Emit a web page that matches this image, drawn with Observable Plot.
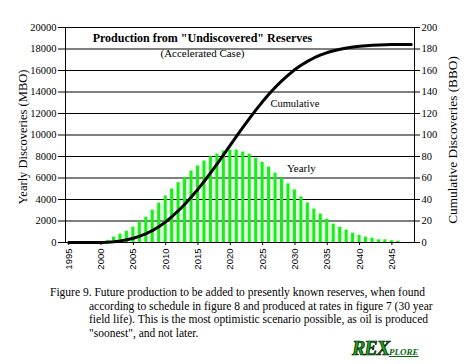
<!DOCTYPE html>
<html><head><meta charset="utf-8">
<script src="https://cdn.jsdelivr.net/npm/d3@7"></script>
<script src="https://cdn.jsdelivr.net/npm/@observablehq/plot@0.6"></script>
<style>
html,body{margin:0;padding:0;background:#fff;}
#wrap{position:relative;width:470px;height:364px;overflow:hidden;font-family:"Times New Roman","Liberation Serif","DejaVu Serif",serif;color:#000;}
#chart svg{display:block;}
#chart svg text{font-family:"Times New Roman","Liberation Serif","DejaVu Serif",serif !important;}
#chart svg .xax text{font-family:Arial,"Liberation Sans","DejaVu Sans",sans-serif !important;}
#caption{position:absolute;left:0;top:286px;font-size:11.5px;line-height:13.5px;white-space:nowrap;}
#caption div{padding-left:89px;}
#caption div.first{padding-left:50px;}
#logo{position:absolute;left:352px;top:337px;white-space:nowrap;font-style:italic;font-weight:bold;}
#logo .big{font-size:20px;color:#10b010;-webkit-text-stroke:0.7px #000;letter-spacing:-1px;}
#logo .small{font-size:9px;color:#0a6a0a;text-decoration:underline;}
</style></head><body>
<div id="wrap">
  <div id="chart"></div>
  <div id="caption"></div>
  <div id="logo"><span class="big">REX</span><span class="small">PLORE</span></div>
</div>
<script>
const years = [1995,1996,1997,1998,1999,2000,2001,2002,2003,2004,2005,2006,2007,2008,2009,2010,2011,2012,2013,2014,2015,2016,2017,2018,2019,2020,2021,2022,2023,2024,2025,2026,2027,2028,2029,2030,2031,2032,2033,2034,2035,2036,2037,2038,2039,2040,2041,2042,2043,2044,2045,2046,2047,2048];
// Yearly discoveries (MBO), left axis
const yearly = [0,0,0,0,0,0,200,500,780,1050,1430,1930,2360,3010,3660,4330,4970,5560,6060,6650,7110,7580,7980,8230,8510,8600,8600,8410,8220,7850,7470,7010,6450,5980,5450,4890,4240,3680,3110,2640,2170,1710,1420,1150,870,670,500,400,250,250,170,120,0,0];
// Cumulative discoveries (BBO), right axis
const cumulative = [0,0,0,0,0,0,0.2,0.7,1.5,2.5,4.0,5.9,8.3,11.3,14.9,19.2,24.2,29.8,35.8,42.5,49.6,57.2,65.2,73.4,81.9,90.5,99.1,107.5,115.7,123.6,131.1,138.1,144.6,150.6,156.0,160.9,165.1,168.7,171.9,174.5,176.7,178.4,179.8,181.0,181.8,182.5,183.0,183.4,183.7,183.9,184.1,184.2,184.2,184.2];
const leftTicks = [0,2000,4000,6000,8000,10000,12000,14000,16000,18000,20000];
const rightTicks = [0,20,40,60,80,100,120,140,160,180,200];
const xTicks = [1995,2000,2005,2010,2015,2020,2025,2030,2035,2040,2045];
const title = "Production from \"Undiscovered\" Reserves";
const subtitle = "(Accelerated Case)";
const leftLabel = "Yearly Discoveries (MBO)";
const rightLabel = "Cumulative Discoveries (BBO)";
const captionLines = [
  "Figure 9. Future production to be added to presently known reserves, when found",
  "according to schedule in figure 8 and produced at rates in figure 7 (30 year",
  "field life). This is the most optimistic scenario possible, as oil is produced",
  "\"soonest\", and not later."
];

const serif = "'Times New Roman','Liberation Serif','DejaVu Serif',serif";
const ratio = 20000 / 200; // right axis mapped onto left scale
const rows = years.map((y, i) => ({year: y, yearly: yearly[i], cum: cumulative[i]}));

const chart = Plot.plot({
  width: 470,
  height: 276,
  marginLeft: 65,
  marginRight: 56,
  marginTop: 27,
  marginBottom: 34,
  style: {fontFamily: serif, fontSize: "10.5px", color: "#000", background: "#fff", overflow: "visible"},
  x: {type: "band", domain: years, paddingInner: 0.53, paddingOuter: 0.265, align: 0.5, round: false},
  y: {domain: [0, 20000]},
  marks: [
    Plot.gridY(leftTicks, {stroke: "#000", strokeOpacity: 1, strokeWidth: 1}),
    Plot.barY(rows, {x: "year", y: "yearly", fill: "#00ff00"}),
    Plot.frame({stroke: "#000", strokeWidth: 1}),
    Plot.line(rows, {x: "year", y: d => d.cum * ratio, stroke: "#000", strokeWidth: 3, curve: "linear"}),
    Plot.axisY(leftTicks, {anchor: "left", tickSize: 7, tickPadding: 2, label: null, tickFormat: d => String(d), fontSize: 10.5}),
    Plot.axisY(rightTicks.map(d => d * ratio), {anchor: "right", tickSize: 5, tickPadding: 2, label: null, tickFormat: d => String(d / ratio), fontSize: 10.5}),
    Plot.axisX(xTicks, {anchor: "bottom", tickSize: 3, tickPadding: 3, tickRotate: -90, label: null, tickFormat: d => String(d), fontSize: 9.5, className: "xax"}),
    Plot.text([title], {x: [2016], y: [19000], text: d => d, fontWeight: "bold", fontSize: 12, textAnchor: "middle", dx: -2}),
    Plot.text([subtitle], {x: [2016], y: [17550], text: d => d, fontSize: 11, textAnchor: "middle", dx: -2}),
    Plot.text(["Cumulative"], {x: [2030], y: [12950], text: d => d, fontSize: 10.5, textAnchor: "middle"}),
    Plot.text(["Yearly"], {x: [2031], y: [6900], text: d => d, fontSize: 11, textAnchor: "middle"}),
    Plot.text([leftLabel], {frameAnchor: "left", text: d => d, rotate: -90, dx: -43, dy: 2, fontSize: 12.5, textAnchor: "middle"}),
    Plot.text([rightLabel], {frameAnchor: "right", text: d => d, rotate: -90, dx: 38, dy: 5, fontSize: 13.3, textAnchor: "middle"})
  ]
});
document.getElementById("chart").appendChild(chart);

const cap = document.getElementById("caption");
captionLines.forEach((t, i) => {
  const div = document.createElement("div");
  if (i === 0) div.className = "first";
  div.textContent = t;
  cap.appendChild(div);
});
</script>
</body></html>
